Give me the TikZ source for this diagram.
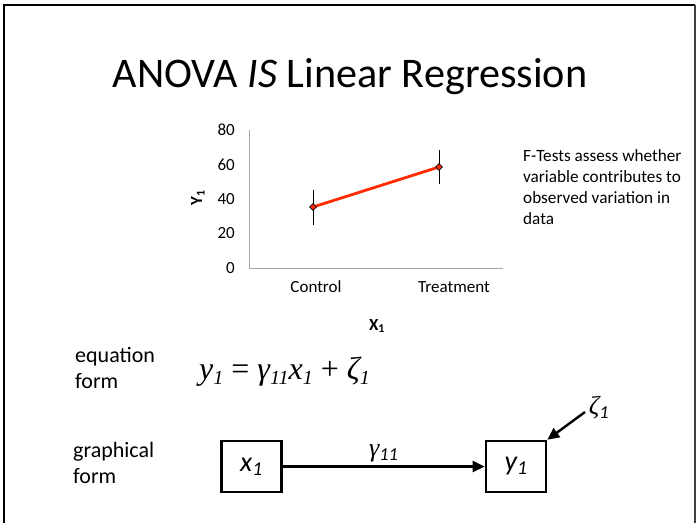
\documentclass[tikz,border=0pt]{standalone}
\usepackage{fontspec}
\setmainfont{Carlito}
\newfontfamily\eqfont{Liberation Serif}
\usetikzlibrary{arrows.meta,shapes.geometric}
\definecolor{linered}{HTML}{FF2A00}
\definecolor{axisgray}{HTML}{A8A8A8}
\tikzset{
  tick/.style={anchor=east,font=\fontsize{17}{17}\selectfont,inner sep=0pt},
  cat/.style={anchor=base,font=\fontsize{17}{17}\selectfont,inner sep=0pt},
  side/.style={anchor=base west,font=\fontsize{22}{22}\selectfont,inner sep=0pt},
  varbox/.style={draw,line width=2.6pt,minimum width=60pt,minimum height=51pt,inner sep=0pt,font=\fontsize{28}{28}\selectfont\itshape},
  ebar/.style={line width=0.8pt},
  datapt/.style={draw=black,fill=linered,line width=0.8pt,diamond,minimum size=7pt,inner sep=0pt},
  conn/.style={line width=2.4pt,-{Triangle[length=12pt,width=11pt]}},
}
\begin{document}
\begin{tikzpicture}[x=1pt,y=1pt]
\useasboundingbox (0,0) rectangle (696,-523);
% frame
\draw[line width=2pt] (3.5,-523) -- (3.5,-5) -- (695,-5);
\draw[line width=1.5pt,black!75] (695,-5) -- (695,-523);
% title
\node[anchor=base,inner sep=0pt,font=\fontsize{42.2}{42.2}\selectfont] (title) at (350,-87) {ANOVA \textit{IS} Linear Regression};
% chart axes
\draw[axisgray,line width=0.8pt] (249,-130) -- (249,-268) -- (503,-268);
\foreach \v/\yy in {0/268,20/233.5,40/199,60/164.5,80/130}{
  \node[tick] (t\v) at (235,-\yy) {\v};
}
\node[cat] (cc) at (316,-292) {Control};
\node[cat] (ct) at (454,-292) {Treatment};
\node[anchor=base,inner sep=0pt,font=\fontsize{17}{17}\selectfont\bfseries] (xl) at (377,-330) {X\textsubscript{1}};
\node[rotate=90,anchor=base,inner sep=0pt,font=\fontsize{17}{17}\selectfont\bfseries] (yl) at (202,-198) {Y\textsubscript{1}};
% error bars
\draw[ebar] (313,-190) -- (313,-225);
\draw[ebar] (439,-150) -- (439,-184);
% data line
\coordinate (pc) at (313,-207);
\coordinate (pt2) at (439,-167);
\draw[linered,line width=2.8pt] (pc) -- (pt2);
\node[datapt] at (pc) {};
\node[datapt] at (pt2) {};
% side note
\node[anchor=north west,align=left,inner sep=0pt,font=\fontsize{17.2}{21}\selectfont] (note) at (523,-149) {F-Tests assess whether\\variable contributes to\\observed variation in\\data};
% equation form
\node[side] (eq1) at (75,-362) {equation};
\node[side] (eq2) at (75,-388) {form};
\node[anchor=base west,inner sep=0pt,font=\eqfont\fontsize{32}{32}\selectfont] (eq) at (199,-379)
 {\textit{y\raisebox{-5pt}{\fontsize{20}{20}\selectfont 1}} = \textit{γ\raisebox{-5pt}{\fontsize{20}{20}\selectfont 11}x\raisebox{-5pt}{\fontsize{20}{20}\selectfont 1}} + \textit{ζ\raisebox{-5pt}{\fontsize{20}{20}\selectfont 1}}};
% graphical form
\node[side] (gf1) at (73,-457) {graphical};
\node[side] (gf2) at (73,-483) {form};
\node[varbox] (x1) at (251.5,-466.5) {x\textsubscript{1}};
\node[varbox] (y1) at (516,-466.5) {y\textsubscript{1}};
\draw[conn] (x1) -- node[above=0pt,font=\fontsize{26}{26}\selectfont\itshape] (g) {{\eqfont γ}\textsubscript{11}} (y1);
\node[font=\fontsize{26}{26}\selectfont\itshape,inner sep=0pt] (z) at (599,-408) {{\eqfont ζ}\textsubscript{1}};
\coordinate (zs) at (585,-412);
\draw[conn] (zs) -- (y1.north east);
\end{tikzpicture}
\end{document}
